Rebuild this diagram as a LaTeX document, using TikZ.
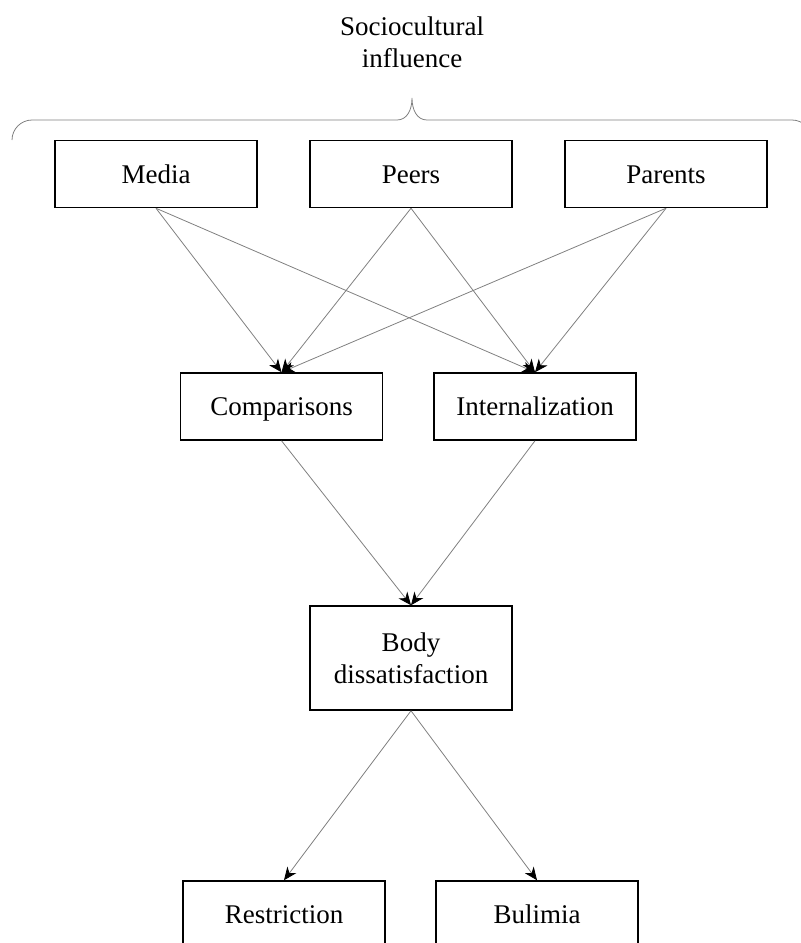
\documentclass[tikz,border=0pt]{standalone}
\usepackage{fontspec}
\setmainfont{Liberation Serif}
\usetikzlibrary{positioning,arrows.meta}

\begin{document}
\begin{tikzpicture}[x=1pt,y=-1pt,
    every node/.style={on grid,node distance=255pt,font=\fontsize{27}{32}\selectfont},
    box/.style={draw,line width=1.5pt,minimum width=202pt,minimum height=67pt,inner sep=0pt,
      text height=18pt,text depth=0pt,align=center},
    link/.style={draw=gray,line width=0.8pt,-{Stealth[length=13pt,width=11pt,inset=4pt,color=black]}}]
    \clip (0,0) rectangle (801,943);
    \node[inner sep=0pt,align=center,anchor=north] (SC) at (412,16.5) {Sociocultural\\influence};
    % brace over the top row
    \draw[gray,line width=0.8pt] (12,140) .. controls (12,129) and (21,120) .. (32,120) -- (397,120)
      .. controls (407,120) and (412,110) .. (412,98)
      .. controls (412,110) and (417,120) .. (427,120) -- (792,120)
      .. controls (803,120) and (812,129) .. (812,140);
    \node[box] (Peers) at (411,174) {Peers};
    \node[box,left=of Peers] (Media) {Media};
    \node[box,right=of Peers] (Parents) {Parents};
    \node[box,below left=232.5pt and 129.5pt of Peers] (Comp) {Comparisons};
    \node[box,below right=232.5pt and 124pt of Peers] (Intern) {Internalization};
    \node[box,text height=,text depth=,minimum height=104pt,below=484pt of Peers] (Body) {Body\\dissatisfaction};
    \node[box,below left=256.5pt and 127pt of Body] (Restr) {Restriction};
    \node[box,below right=256.5pt and 126pt of Body] (Bul) {Bulimia};
    \foreach \src in {Media,Peers,Parents}{
      \draw[link] (\src.south) -- (Comp.north);
      \draw[link] (\src.south) -- (Intern.north);
    }
    \draw[link] (Comp.south) -- (Body.north);
    \draw[link] (Intern.south) -- (Body.north);
    \draw[link] (Body.south) -- (Restr.north);
    \draw[link] (Body.south) -- (Bul.north);
  \end{tikzpicture}
\end{document}
